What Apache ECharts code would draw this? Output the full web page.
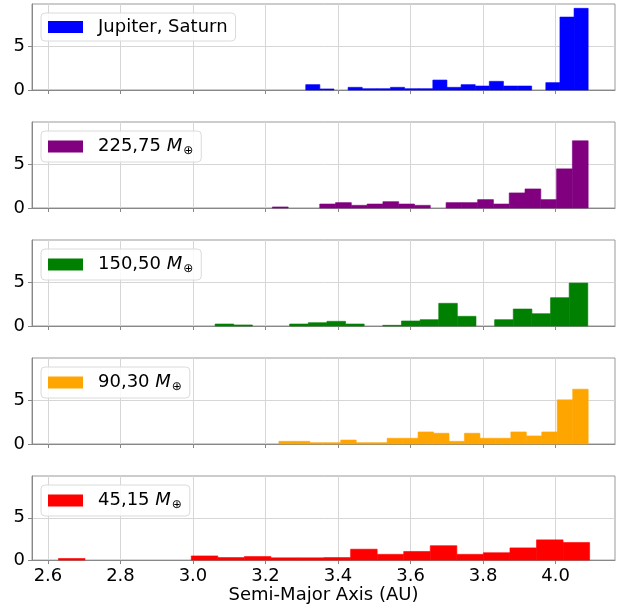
<!DOCTYPE html>
<html>
<head>
<meta charset="utf-8">
<script src="https://cdn.jsdelivr.net/npm/echarts@6/dist/echarts.min.js"></script>
<style>
  html, body { margin: 0; padding: 0; background: #fff; }
  #chart { width: 638px; height: 605px; }
</style>
</head>
<body>
<div id="chart"></div>
<script>
// legend labels (mass pairs), the M⊕ suffix is added in the formatter
const labels = ["Jupiter, Saturn", "225,75", "150,50", "90,30", "45,15"];
const colors = ["#0000ff", "#800080", "#008000", "#ffa500", "#ff0000"];

// bin range (AU) of each histogram, 20 bins each
const binStart = [3.311, 3.219, 3.061, 3.237, 2.629];
const binEnd = [4.090, 4.090, 4.089, 4.090, 4.094];

// heights
const jupSat = [0.62, 0.12, 0, 0.31, 0.15, 0.15, 0.31, 0.15, 0.15, 1.15,
  0.31, 0.62, 0.46, 1.0, 0.46, 0.46, 0, 0.85, 8.42, 9.43];
const m225 = [0.12, 0, 0, 0.46, 0.62, 0.31, 0.46, 0.73, 0.46, 0.31,
  0, 0.62, 0.62, 0.97, 0.46, 1.74, 2.2, 0.97, 4.52, 7.76];
const m150 = [0.23, 0.12, 0, 0, 0.23, 0.38, 0.54, 0.23, 0, 0.08,
  0.58, 0.73, 2.62, 1.12, 0, 0.73, 1.96, 1.42, 3.27, 4.96];
const m90 = [0.31, 0.31, 0.15, 0.15, 0.46, 0.15, 0.15, 0.66, 0.66, 1.39,
  1.24, 0.31, 1.24, 0.66, 0.66, 1.39, 0.93, 1.39, 5.1, 6.33];
const m45 = [0.19, 0, 0, 0, 0, 0.49, 0.3, 0.42, 0.27, 0.27,
  0.3, 1.29, 0.68, 1.02, 1.7, 0.68, 0.87, 1.44, 2.39, 2.08];
const heights = [jupSat, m225, m150, m90, m45];

const xTicks = [2.6, 2.8, 3.0, 3.2, 3.4, 3.6, 3.8, 4.0];
const yTicks = [0, 5];

const font = "DejaVu Sans";
const panelTops = [4, 122, 240, 358, 476];
const panelH = 86;

function toBins(i) {
  const w = (binEnd[i] - binStart[i]) / heights[i].length;
  return heights[i].map((h, k) => [binStart[i] + k * w, binStart[i] + (k + 1) * w, h]);
}

function renderBin(params, api) {
  if (!api.value(2)) return;
  const lo = api.coord([api.value(0), 0]);
  const hi = api.coord([api.value(1), api.value(2)]);
  const c = api.visual("color");
  return {
    type: "rect",
    shape: { x: lo[0], y: hi[1], width: hi[0] - lo[0], height: lo[1] - hi[1] },
    style: { fill: c, stroke: c, lineWidth: 0.6 },
  };
}

const chart = echarts.init(document.getElementById("chart"));

const grid = [], xAxis = [], yAxis = [], series = [], legend = [];
labels.forEach((name, i) => {
  grid.push({
    left: 32, right: 23, top: panelTops[i], height: panelH,
    show: true, borderColor: "#999", borderWidth: 1,
  });
  xAxis.push({
    type: "value", gridIndex: i, min: 2.556, max: 4.164,
    axisLine: { lineStyle: { color: "#888" } },
    axisTick: { customValues: xTicks, length: 4, lineStyle: { color: "#888" } },
    axisLabel: {
      show: i === 4, customValues: xTicks, margin: 7,
      fontSize: 18, fontFamily: font, color: "#000",
      formatter: (v) => v.toFixed(1),
    },
    splitLine: { show: true, lineStyle: { color: "#d6d6d6" } },
    name: i === 4 ? "Semi-Major Axis (AU)" : "",
    nameLocation: "middle", nameGap: 22,
    nameTextStyle: { fontSize: 18, fontFamily: font, color: "#000" },
  });
  yAxis.push({
    type: "value", gridIndex: i, min: 0, max: 9.93,
    axisLine: { show: true, lineStyle: { color: "#888" } },
    axisTick: { show: true, customValues: yTicks, length: 4, lineStyle: { color: "#888" } },
    axisLabel: {
      customValues: yTicks, margin: 7,
      fontSize: 18, fontFamily: font, color: "#000",
    },
    splitLine: { show: true, lineStyle: { color: "#d6d6d6" } },
  });
  series.push({
    name: name, type: "custom", xAxisIndex: i, yAxisIndex: i,
    renderItem: renderBin, itemStyle: { color: colors[i] },
    encode: { x: [0, 1], y: 2 },
    data: toBins(i),
  });
  legend.push({
    data: [{ name: name, icon: "rect" }],
    left: 41, top: panelTops[i] + 9,
    itemWidth: 35, itemHeight: 12,
    padding: [5, 8, 5, 7],
    backgroundColor: "rgba(255,255,255,0.85)",
    borderColor: "#dadada", borderWidth: 1, borderRadius: 4,
    selectedMode: false,
    formatter: (n) => i === 0 ? "{n|" + n + "}" : "{n|" + n + " }{m|M}{s|⊕}",
    textStyle: {
      rich: {
        n: { fontSize: 18, fontFamily: font, color: "#000", lineHeight: 22, padding: [0, 0, 0, 10] },
        m: { fontSize: 18, fontFamily: font, fontStyle: "italic", color: "#000", lineHeight: 22 },
        s: { fontSize: 12, fontFamily: font, color: "#000", lineHeight: 22, padding: [9, 0, 0, 1] },
      },
    },
  });
});

chart.setOption({
  animation: false,
  grid: grid,
  xAxis: xAxis,
  yAxis: yAxis,
  legend: legend,
  series: series,
});
</script>
</body>
</html>
